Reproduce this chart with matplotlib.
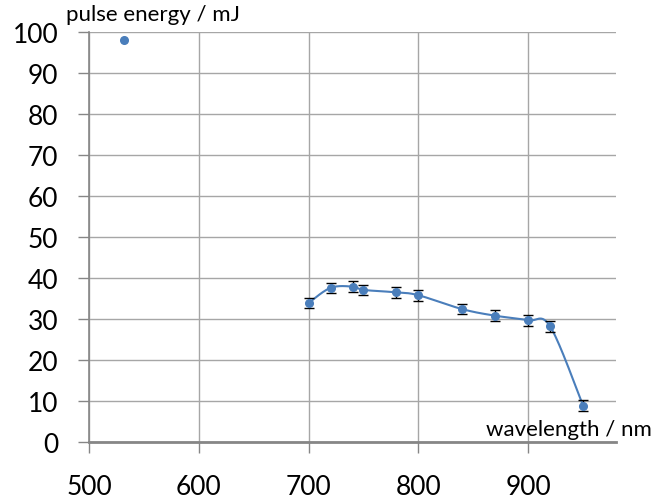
import numpy as np
import matplotlib
matplotlib.use("Agg")
import matplotlib.pyplot as plt

plt.rcParams['font.family'] = ['Lato', 'DejaVu Sans']

# single point (532 nm)
x_single = [532]
y_single = [98.0]
err_single = [0.5]

# tunable range
wavelength = [700, 720, 740, 750, 780, 800, 840, 870, 900, 920, 950]
energy = [33.9, 37.6, 37.9, 37.1, 36.5, 35.8, 32.4, 30.8, 29.7, 28.2, 8.9]
energy_err = [1.3, 1.3, 1.3, 1.3, 1.3, 1.3, 1.3, 1.3, 1.3, 1.3, 1.3]

xticks = [500, 600, 700, 800, 900]
yticks = [0, 10, 20, 30, 40, 50, 60, 70, 80, 90, 100]

def smooth(xs, ys, n=30, tension=0.5):
    xs = np.asarray(xs, float); ys = np.asarray(ys, float)
    P = np.column_stack([xs, ys])
    P = np.vstack([P[0], P, P[-1]])
    out = []
    for i in range(1, len(P) - 2):
        p0, p1, p2, p3 = P[i-1], P[i], P[i+1], P[i+2]
        m1 = (p2 - p0) * tension
        m2 = (p3 - p1) * tension
        t = np.linspace(0, 1, n)[:, None]
        h00 = 2*t**3 - 3*t**2 + 1
        h10 = t**3 - 2*t**2 + t
        h01 = -2*t**3 + 3*t**2
        h11 = t**3 - t**2
        out.append(h00*p1 + h10*m1 + h01*p2 + h11*m2)
    c = np.vstack(out)
    return c[:, 0], c[:, 1]

fig = plt.figure(figsize=(6.54, 5.02), dpi=100)
ax = fig.add_axes([89/654, (502-443)/502, (616-89)/654, (443-33)/502])

blue = '#4a7ebb'
cx, cy = smooth(wavelength, energy)
ax.plot(cx, cy, color=blue, lw=1.5, zorder=3)
ax.errorbar(wavelength, energy, yerr=energy_err, fmt='o', color=blue, ms=5.5,
            ecolor='black', elinewidth=1, capsize=3.5, capthick=1, zorder=4)
ax.errorbar(x_single, y_single, yerr=err_single, fmt='o', color=blue, ms=5.5,
            ecolor='black', elinewidth=1, capsize=2, capthick=1, zorder=4)

ax.set_xlim(500, 980)
ax.set_ylim(0, 100)
ax.set_xticks(xticks)
ax.set_yticks(yticks)
ax.grid(True, color='#a6a6a6', lw=1)
ax.set_axisbelow(True)
for s in ['top', 'right']:
    ax.spines[s].set_visible(False)
ax.spines['left'].set_color('#868686')
ax.spines['bottom'].set_color('#868686')
ax.spines['left'].set_linewidth(1.2)
ax.spines['bottom'].set_linewidth(2)
ax.tick_params(axis='x', length=8, width=1, color='#868686', labelsize=19, pad=15)
ax.tick_params(axis='y', length=8, width=1, color='#868686', labelsize=19, pad=14)

fig.text(66/654, 1 - 15/502, 'pulse energy / mJ', fontsize=16, va='center', ha='left')
fig.text(652/654, 1 - 430/502, 'wavelength / nm', fontsize=16, va='center', ha='right')

fig.savefig('out.png', dpi=100)
